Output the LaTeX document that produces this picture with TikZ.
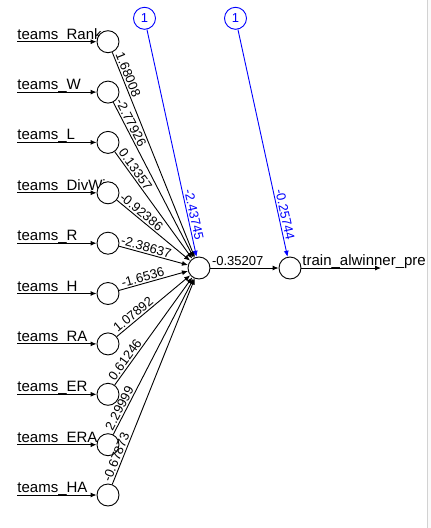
\documentclass[tikz,border=0pt]{standalone}
\usepackage{fontspec}
\setmainfont{Liberation Sans}
\usetikzlibrary{arrows.meta}

\begin{document}
\begin{tikzpicture}[x=1pt,y=-1pt,>={Latex[length=6pt,width=5pt]},line width=0.9pt,
		font=\fontsize{15}{17}\selectfont]
			\useasboundingbox (0,0) rectangle (431,528);
			\fill[white] (0,0) rectangle (431,528);
			\fill[gray!4] (428,0) rectangle (431,528);
			\draw[gray!35,line width=1pt] (427.5,0) -- (427.5,528);
			
			% input names
			\begin{scope}[every node/.style={anchor=base west,inner sep=0pt}]
				\node (tRank) at (17,39.2) {teams\_Rank};
				\node (tW) at (17,89.6) {teams\_W};
				\node (tL) at (17,139.9) {teams\_L};
				\node (tDivWin) at (17,190.3) {teams\_DivWin};
				\node (tR) at (17,240.7) {teams\_R};
				\node (tH) at (17,291) {teams\_H};
				\node (tRA) at (17,341.4) {teams\_RA};
				\node (tER) at (17,391.8) {teams\_ER};
				\node (tERA) at (17,442.2) {teams\_ERA};
				\node (tHA) at (17,492.5) {teams\_HA};
				\node (tOut) at (302,265.5) {train\_alwinner\_pre};
			\end{scope}
			
			\coordinate (sRank) at (17,41.7);
			\coordinate (sW) at (17,92.1);
			\coordinate (sL) at (17,142.4);
			\coordinate (sDivWin) at (17,192.8);
			\coordinate (sR) at (17,243.2);
			\coordinate (sH) at (17,293.5);
			\coordinate (sRA) at (17,343.9);
			\coordinate (sER) at (17,394.3);
			\coordinate (sERA) at (17,444.7);
			\coordinate (sHA) at (17,495);
			\coordinate (eOut) at (381,268);
			
			\begin{scope}[every node/.style={circle,draw,fill=white,minimum size=22pt,inner sep=0pt}]
				\node (Rank) at (108,41.7) {};
				\node (W) at (108,92.1) {};
				\node (L) at (108,142.4) {};
				\node (DivWin) at (108,192.8) {};
				\node (R) at (108,243.2) {};
				\node (H) at (108,293.5) {};
				\node (RA) at (108,343.9) {};
				\node (ER) at (108,394.3) {};
				\node (ERA) at (108,444.7) {};
				\node (HA) at (108,495) {};
				\node (H1) at (199,268) {};
				\node (O1) at (290,268) {};
			\end{scope}
			
			\begin{scope}[every node/.style={circle,draw=blue,text=blue,minimum size=22pt,inner sep=0pt,
					font=\fontsize{13}{15}\selectfont}]
				\node (B1) at (144.5,18.3) {1};
				\node (B2) at (235.5,18.3) {1};
			\end{scope}
			
			\begin{scope}[every edge/.style={draw=black,line width=0.9pt},
				every node/.style={sloped,above,inner sep=1.5pt,font=\fontsize{13}{15}\selectfont}]
				\path [->] (sRank) edge (Rank);
				\path [->] (sW) edge (W);
				\path [->] (sL) edge (L);
				\path [->] (sDivWin) edge (DivWin);
				\path [->] (sR) edge (R);
				\path [->] (sH) edge (H);
				\path [->] (sRA) edge (RA);
				\path [->] (sER) edge (ER);
				\path [->] (sERA) edge (ERA);
				\path [->] (sHA) edge (HA);
				\path [->] (Rank) edge node [pos=0.12] {1.68008} (H1);
				\path [->] (W) edge node [pos=0.15] {-2.77926} (H1);
				\path [->] (L) edge node [pos=0.2] {0.13357} (H1);
				\path [->] (DivWin) edge node [pos=0.28] {-0.92386} (H1);
				\path [->] (R) edge node [pos=0.37] {-2.38637} (H1);
				\path [->] (H) edge node [pos=0.37] {-1.6536} (H1);
				\path [->] (RA) edge node [pos=0.28] {1.07892} (H1);
				\path [->] (ER) edge node [pos=0.2] {0.61246} (H1);
				\path [->] (ERA) edge node [pos=0.15] {2.29999} (H1);
				\path [->] (HA) edge node [pos=0.12] {-0.67873} (H1);
				\path [->] (H1) edge node [pos=0.4] {-0.35207} (O1);
				\path [->] (O1) edge (eOut);
			\end{scope}
			
			\begin{scope}[every edge/.style={draw=blue,line width=0.9pt},
				every node/.style={sloped,above,inner sep=1.5pt,text=blue,font=\fontsize{13}{15}\selectfont}]
				\path [->] (B1) edge node [pos=0.82] {-2.43745} (H1);
				\path [->] (B2) edge node [pos=0.82] {-0.25744} (O1);
			\end{scope}
		\end{tikzpicture}
\end{document}
